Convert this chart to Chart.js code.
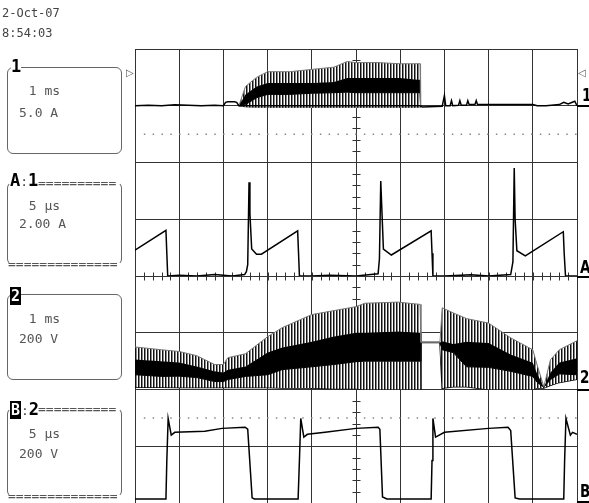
<!DOCTYPE html>
<html>
<head>
<meta charset="utf-8">
<script src="https://cdn.jsdelivr.net/npm/chart.js@4.4.1/dist/chart.umd.min.js"></script>
<style>
  body { margin: 0; background: #fff; }
  #scope { position: relative; width: 589px; height: 503px; overflow: hidden;
           font-family: "DejaVu Sans Mono", monospace; color: #444; }
  #scope canvas { position: absolute; left: 0; top: 0; }
  .t { position: absolute; white-space: pre; font-size: 12px; line-height: 12px; }
  .s { font-size: 13px; line-height: 13px; color: #555; }
  .box { position: absolute; left: 7px; width: 113px; border: 1px solid #666; border-radius: 6px; }
  .box.dash { border-top-color: transparent; border-bottom-color: transparent; }
  .tag { position: absolute; font-weight: bold; font-size: 17px; line-height: 17px; color: #000;
         background: #fff; white-space: pre; }
  .tag .c { font-weight: normal; font-size: 13px; color: #444; }
  .inv { background: #000; color: #fff; padding: 0 1px; font-size: 15px; line-height: 15px; }
  .mark { position: absolute; font-family: "DejaVu Sans", sans-serif; font-weight: bold; font-size: 18px;
          line-height: 18px; color: #000; transform: scaleX(0.75); transform-origin: left top; }
  .tri { position: absolute; font-family: "DejaVu Sans", sans-serif; font-size: 10px; line-height: 10px; color: #555; }
  .ul { position: absolute; left: 577px; width: 12px; height: 2px; background: #000; }
</style>
</head>
<body>
<div id="scope">
  <canvas id="scopeChart" width="589" height="503"></canvas>

  <div class="t" style="left:2px;top:7px">2-Oct-07</div>
  <div class="t" style="left:2px;top:27px">8:54:03</div>

  <!-- channel 1 -->
  <div class="box" style="top:67px;height:85px"></div>
  <div class="tag" style="left:11px;top:58px">1</div>
  <div class="t s" style="left:21px;top:84px"> 1 ms</div>
  <div class="t s" style="left:19px;top:106px">5.0 A</div>

  <!-- zoom A -->
  <div class="box dash" style="top:182px;height:81px"></div>
  <div class="tag" style="left:10px;top:172px">A<span class="c">:</span>1</div>
  <div class="t s" style="left:38px;top:176px">==========</div>
  <div class="t s" style="left:21px;top:199px"> 5 µs</div>
  <div class="t s" style="left:19px;top:217px">2.00 A</div>
  <div class="t s" style="left:8px;top:257px">==============</div>

  <!-- channel 2 -->
  <div class="box" style="top:294px;height:84px"></div>
  <div class="tag" style="left:10px;top:287px"><span class="inv">2</span></div>
  <div class="t s" style="left:21px;top:312px"> 1 ms</div>
  <div class="t s" style="left:19px;top:332px">200 V</div>

  <!-- zoom B -->
  <div class="box dash" style="top:408px;height:87px"></div>
  <div class="tag" style="left:10px;top:401px"><span class="inv">B</span><span class="c">:</span>2</div>
  <div class="t s" style="left:38px;top:402px">==========</div>
  <div class="t s" style="left:21px;top:427px"> 5 µs</div>
  <div class="t s" style="left:19px;top:447px">200 V</div>
  <div class="t s" style="left:8px;top:489px">==============</div>

  <!-- trace markers on the right -->
  <div class="tri" style="left:126px;top:68px">▷</div>
  <div class="tri" style="left:578px;top:68px">◁</div>
  <div class="mark" style="left:582px;top:86px">1</div>
  <div class="ul" style="top:105px"></div>
  <div class="mark" style="left:580px;top:258px">A</div>
  <div class="ul" style="top:276px"></div>
  <div class="mark" style="left:580px;top:368px">2</div>
  <div class="ul" style="top:389px"></div>
  <div class="mark" style="left:580px;top:482px">B</div>
  <div class="ul" style="top:501px"></div>
</div>

<script>
// channel 1, 1 ms/div, 5.0 A/div : baseline trace
const ch1Time = [0, 0.3, 0.6, 0.9, 1.2, 1.5, 1.8, 2.0, 2.05, 2.1, 2.25, 2.3, 2.35, 6.45, 6.5, 6.95, 7.0, 7.03,
                 7.13, 7.16, 7.19, 7.32, 7.35, 7.38, 7.5, 7.53, 7.56, 7.69, 7.72, 7.75, 8.0, 8.5, 9.0, 9.1,
                 9.3, 9.6, 9.7, 9.8, 9.95, 10];
const ch1Amps = [0, 0.05, 0, 0.08, 0.05, 0, 0.05, 0, 0.3, 0.35, 0.35, 0.3, 0, 0, -0.1, -0.05, 0.9, 0,
                 0, 0.45, 0, 0.05, 0.45, 0.05, 0.05, 0.45, 0.1, 0.1, 0.45, 0.1, 0.1, 0.1, 0.1, 0,
                 0, 0.1, 0.3, 0.15, 0.4, 0];
// channel 1 switching envelope
const ch1EnvTime = [2.35, 2.5, 2.75, 3.0, 3.5, 4.0, 4.5, 4.8, 5.0, 5.5, 6.0, 6.4, 6.45, 6.46];
const ch1SpikeHi = [0, 1.7, 2.5, 3.0, 3.0, 3.2, 3.4, 3.9, 3.8, 3.8, 3.7, 3.7, 3.7, 0];
const ch1BandHi  = [0, 1.0, 1.7, 2.0, 2.0, 2.0, 2.1, 2.45, 2.45, 2.45, 2.45, 2.3, 2.3, 0];
const ch1BandLo  = [0, 0.1, 0.7, 1.0, 1.0, 1.1, 1.15, 1.2, 1.15, 1.15, 1.15, 1.15, 1.15, 0];
const ch1SpikeLo = [0, -0.1, -0.15, -0.15, -0.15, -0.15, -0.15, -0.15, -0.15, -0.15, -0.15, -0.15, -0.15, 0];
const ch1Cursor = -2.5;

// zoom A, 5 µs/div, 2.00 A/div
const zoomATime = [0, 3.5, 3.6, 3.7, 5, 7, 9, 11, 12.4, 12.6, 12.75, 12.9, 13.0, 13.2, 13.75, 14.3, 18.4, 18.5,
                   18.6, 20, 22, 25, 27.5, 27.65, 27.8, 28.1, 29.0, 33.5, 33.6, 33.7, 35, 38, 40, 42.5, 42.75,
                   42.9, 43.0, 43.2, 44.15, 48.45, 48.55, 48.7, 50];
const zoomAAmps = [0.91, 1.61, 0.8, 0, 0.03, 0, 0.05, 0, 0.05, 0.15, 0.4, 3.3, 2.2, 0.95, 0.77, 0.77, 1.59, 0.8,
                   0, 0, 0.03, 0, 0.08, 0.6, 3.35, 0.95, 0.74, 1.59, 0.8, 0, 0, 0.04, 0, 0.05, 0.5,
                   3.81, 2.0, 0.89, 0.71, 1.56, 0.8, 0, 0];

// channel 2, 1 ms/div, 200 V/div
const ch2EnvTime = [0, 0.6, 1.0, 1.4, 1.8, 2.0, 2.1, 2.5, 3.0, 3.33, 4.0, 4.5, 5.0, 5.2, 5.95, 6.45, 6.47,
                    6.9, 6.95, 7.2, 7.5, 8.0, 8.5, 9.0, 9.1, 9.25, 9.4, 9.6, 10];
const ch2SpikeHi = [150, 140, 134, 119, 88, 88, 112, 126, 186, 218, 264, 278, 292, 304, 308, 300, 166,
                    166, 288, 270, 250, 234, 182, 140, 85, 10, 105, 140, 172];
const ch2BandHi  = [106, 100, 95, 81, 64, 60, 70, 81, 130, 148, 168, 187, 200, 200, 204, 200, 166,
                    166, 170, 160, 168, 164, 123, 94, 55, 8, 60, 95, 110];
const ch2BandLo  = [52, 46, 47, 42, 28, 28, 35, 46, 52, 70, 80, 88, 98, 100, 100, 100, 166,
                    166, 140, 130, 80, 78, 64, 46, 25, 8, 35, 55, 52];
const ch2SpikeLo = [8, 8, 7, 7, 7, 7, 7, 7, 7, 5, 5, 3, 3, 0, 0, 0, 166,
                    166, 5, 10, 10, 0, 0, 0, 5, 5, 15, 25, 36];

// zoom B, 5 µs/div, 200 V/div
const zoomBTime = [0, 3.5, 3.6, 3.75, 4.1, 4.5, 7.9, 9.85, 12.45, 12.75, 13.25, 13.5, 18.45, 18.6, 18.75, 19.1,
                   19.5, 21.5, 25, 27.5, 27.7, 28.0, 28.5, 33.5, 33.6, 33.7, 34.0, 35, 40, 42.2, 42.5, 43.0,
                   43.5, 48.5, 48.6, 48.75, 49.25, 49.5, 50];
const zoomBVolts = [14, 14, 150, 298, 239, 249, 253, 263, 267, 260, 18, 14, 14, 150, 298, 232,
                    242, 249, 263, 267, 260, 21, 14, 14, 150, 298, 232, 249, 263, 267, 255, 18,
                    14, 14, 150, 298, 239, 249, 242];
const zoomBCursor = 300;

const pts = (xs, ys) => xs.map((x, i) => ({ x, y: ys[i] }));

// vertical hatch like the dense switching spikes
function stripes() {
  const c = document.createElement('canvas');
  c.width = 3; c.height = 1;
  const g = c.getContext('2d');
  g.fillStyle = '#fff'; g.fillRect(0, 0, 3, 1);
  g.fillStyle = '#111'; g.fillRect(0, 0, 1, 1);
  g.fillStyle = '#888'; g.fillRect(1, 0, 1, 1);
  return g.createPattern(c, 'repeat');
}
const hatch = stripes();

// minor ticks on the centre graticule lines
const centreTicks = {
  id: 'centreTicks',
  beforeDatasetsDraw(chart) {
    const { ctx, scales: { x, grat } } = chart;
    const cx = Math.round(x.getPixelForValue(5)) + 0.5;
    const cy = Math.round(grat.getPixelForValue(0)) + 0.5;
    ctx.save();
    ctx.strokeStyle = '#333';
    ctx.lineWidth = 1;
    ctx.beginPath();
    for (let v = -4; v <= 4.001; v += 0.2) {
      const py = Math.round(grat.getPixelForValue(v)) + 0.5;
      ctx.moveTo(cx - 4, py); ctx.lineTo(cx + 4, py);
    }
    for (let v = 0; v <= 10.001; v += 0.2) {
      const px = Math.round(x.getPixelForValue(v)) + 0.5;
      ctx.moveTo(px, cy - 4); ctx.lineTo(px, cy + 4);
    }
    ctx.stroke();
    ctx.restore();
  }
};

const line = (data, xAxisID, yAxisID, extra) => Object.assign({
  data, xAxisID, yAxisID, borderColor: '#000', borderWidth: 1.5, pointRadius: 0, fill: false, tension: 0
}, extra);

new Chart(document.getElementById('scopeChart'), {
  type: 'line',
  data: {
    datasets: [
      line(pts(ch1Time, ch1Amps), 'x', 'y1'),
      line(pts(zoomATime, zoomAAmps), 'xz', 'yA'),
      line(pts(zoomBTime, zoomBVolts), 'xz', 'yB'),
      line(pts(ch1EnvTime, ch1SpikeHi), 'x', 'y1', { borderColor: '#777', borderWidth: 1, fill: '+1', backgroundColor: hatch }),
      line(pts(ch1EnvTime, ch1BandHi), 'x', 'y1', { borderWidth: 1, fill: '+1', backgroundColor: '#000' }),
      line(pts(ch1EnvTime, ch1BandLo), 'x', 'y1', { borderWidth: 1, fill: '+1', backgroundColor: hatch }),
      line(pts(ch1EnvTime, ch1SpikeLo), 'x', 'y1', { borderColor: '#555', borderWidth: 1 }),
      line(pts(ch2EnvTime, ch2SpikeHi), 'x', 'y2', { borderColor: '#777', borderWidth: 1, fill: '+1', backgroundColor: hatch }),
      line(pts(ch2EnvTime, ch2BandHi), 'x', 'y2', { borderWidth: 1, fill: '+1', backgroundColor: '#000' }),
      line(pts(ch2EnvTime, ch2BandLo), 'x', 'y2', { borderWidth: 1, fill: '+1', backgroundColor: hatch }),
      line(pts(ch2EnvTime, ch2SpikeLo), 'x', 'y2', { borderWidth: 1.5 }),
      line([{ x: 0.2, y: ch1Cursor }, { x: 10, y: ch1Cursor }], 'x', 'y1', { borderColor: '#888', borderWidth: 1.5, borderDash: [1.5, 7.3] }),
      line([{ x: 1, y: zoomBCursor }, { x: 50, y: zoomBCursor }], 'xz', 'yB', { borderColor: '#888', borderWidth: 1.5, borderDash: [1.5, 7.3] })
    ]
  },
  options: {
    responsive: false,
    animation: false,
    devicePixelRatio: 1,
    layout: { padding: { left: 135, right: 12, top: 49, bottom: 0 }, autoPadding: false },
    plugins: { legend: { display: false }, tooltip: { enabled: false } },
    scales: {
      x: { type: 'linear', min: 0, max: 10, ticks: { display: false, stepSize: 1 },
           grid: { color: '#333', drawTicks: false }, border: { color: '#333' } },
      xz: { type: 'linear', min: 0, max: 50, display: false },
      grat: { type: 'linear', position: 'left', min: -4, max: 4, ticks: { display: false, stepSize: 1 },
              grid: { color: '#333', drawTicks: false }, border: { color: '#333' } },
      y1: { type: 'linear', position: 'right', stack: 'scope', min: -5, max: 5, display: false },
      yA: { type: 'linear', position: 'right', stack: 'scope', min: 0, max: 4, display: false },
      y2: { type: 'linear', position: 'right', stack: 'scope', min: 0, max: 400, display: false },
      yB: { type: 'linear', position: 'right', stack: 'scope', min: 0, max: 400, display: false }
    }
  },
  plugins: [centreTicks]
});
</script>
</body>
</html>
